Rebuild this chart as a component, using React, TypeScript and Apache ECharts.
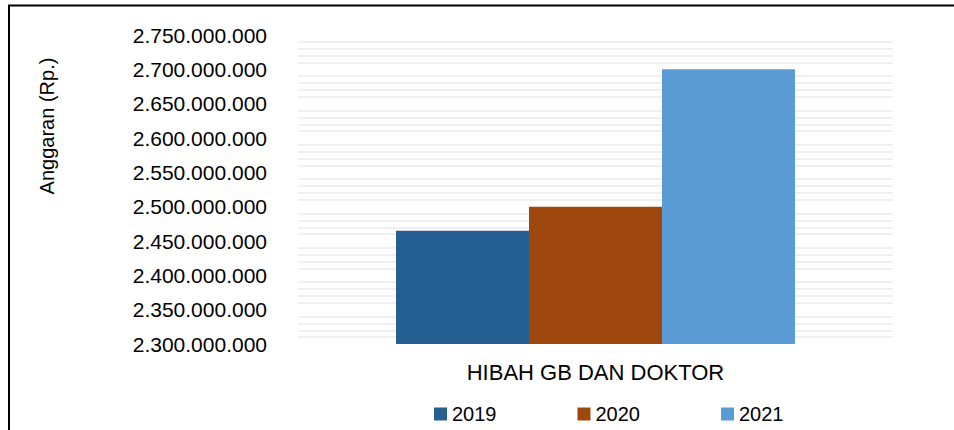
import React, { useEffect, useRef } from "react";
import * as echarts from "echarts";

const categories = ["HIBAH GB DAN DOKTOR"];
const seriesNames = ["2019", "2020", "2021"];
const values2019 = [2465000000];
const values2020 = [2500000000];
const values2021 = [2700000000];
const colors = ["#255E91", "#9E480E", "#5B9BD5"];
const yMin = 2300000000;
const yMax = 2750000000;
const yInterval = 50000000;
const yTitle = "Anggaran (Rp.)";

const FONT = "'Liberation Sans', Arial, sans-serif";

function fmt(v: number): string {
  return String(Math.round(v)).replace(/\B(?=(\d{3})+(?!\d))/g, ".");
}

export default function App() {
  const ref = useRef<HTMLDivElement>(null);
  useEffect(() => {
    document.body.style.margin = "0";
    if (!ref.current) return;
    const chart = echarts.init(ref.current, undefined, { renderer: "svg" });
    const data = [values2019, values2020, values2021];
    chart.setOption({
      animation: false,
      backgroundColor: "#ffffff",
      textStyle: { fontFamily: FONT },
      grid: { left: 298, right: 61, top: 35, bottom: 86 },
      legend: {
        data: seriesNames,
        left: 429,
        top: 399,
        icon: "rect",
        itemWidth: 13,
        itemHeight: 13,
        itemGap: 81,
        textStyle: { fontFamily: FONT, fontSize: 20, color: "#000" },
      },
      xAxis: {
        type: "category",
        data: categories,
        axisLine: { show: false },
        axisTick: { show: false },
        axisLabel: { fontFamily: FONT, fontSize: 22, color: "#000", margin: 17 },
      },
      yAxis: {
        type: "value",
        min: yMin,
        max: yMax,
        interval: yInterval,
        axisLine: { show: false },
        axisTick: { show: false },
        splitLine: { show: false },
        minorTick: { show: false, splitNumber: 5 },
        minorSplitLine: { show: true, lineStyle: { color: "#ebebeb", width: 1.5 } },
        axisLabel: {
          fontFamily: FONT,
          fontSize: 21,
          color: "#000",
          margin: 31,
          formatter: (v: number) => fmt(v),
        },
      },
      series: seriesNames.map((name, i) => ({
        name,
        type: "bar",
        data: data[i],
        barWidth: 133,
        barGap: "0%",
        itemStyle: { color: colors[i] },
      })),
      graphic: [
        {
          type: "line",
          shape: { x1: 8, y1: 5.5, x2: 954, y2: 5.5 },
          style: { stroke: "#000", lineWidth: 2 },
        },
        {
          type: "line",
          shape: { x1: 9, y1: 5, x2: 9, y2: 430 },
          style: { stroke: "#000", lineWidth: 2 },
        },
        {
          type: "text",
          x: 47,
          y: 126,
          rotation: Math.PI / 2,
          style: {
            text: yTitle,
            fontFamily: FONT,
            fontSize: 20,
            fill: "#000",
            align: "center",
            verticalAlign: "middle",
          },
        },
      ],
    });
    return () => chart.dispose();
  }, []);
  return <div ref={ref} style={{ width: 954, height: 430 }} />;
}
